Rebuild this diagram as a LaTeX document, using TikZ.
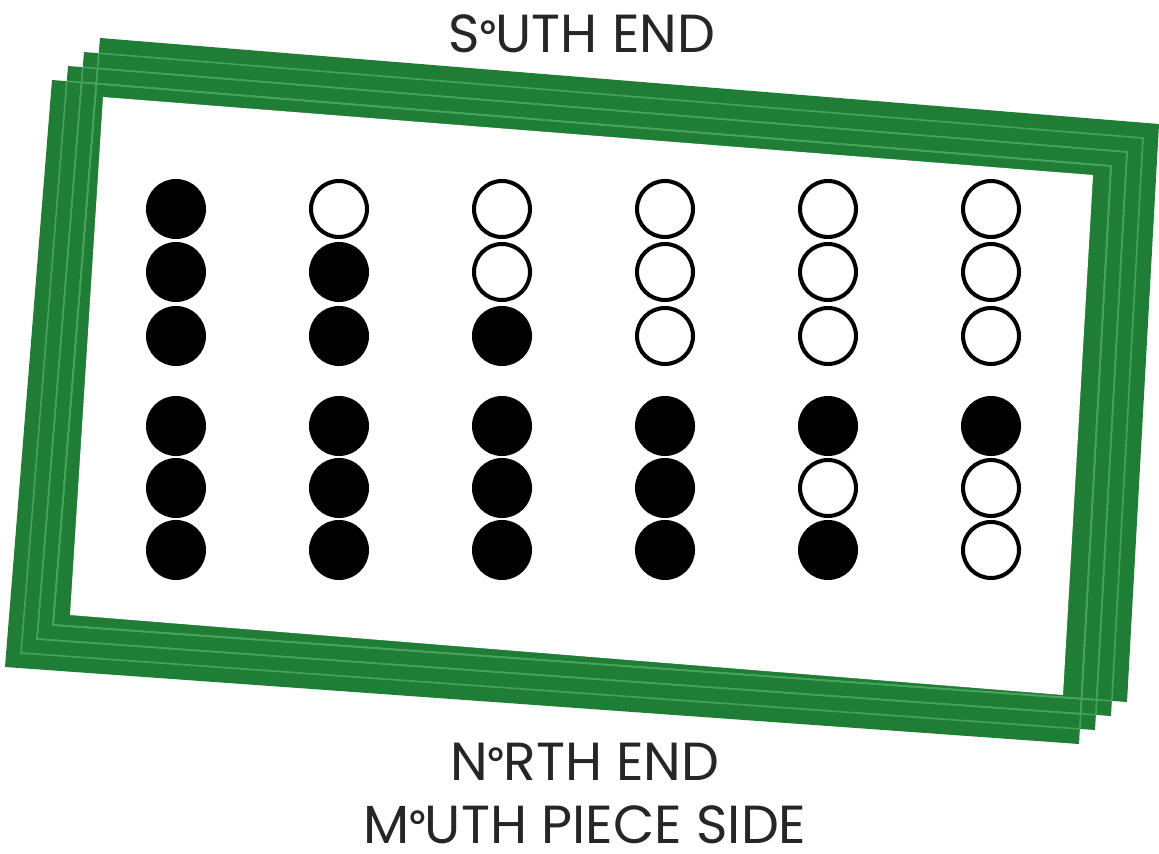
\documentclass[tikz,border=0pt]{standalone}
\usepackage{fontspec}
\newfontfamily\labelfont{Poppins}
\definecolor{framegreen}{HTML}{1F7D35}
\definecolor{stripgreen}{HTML}{45A35A}
\newcommand{\supo}{\raisebox{10.5pt}{\bfseries\fontsize{11}{11}\selectfont O}}

\begin{document}
\begin{tikzpicture}[x=0.02cm, y=-0.02cm,
  framequad/.style={insert path={(100,38) -- (1159,124) -- (1127,702) -- (53,625) -- cycle}},
  sepline/.style={stripgreen, line width=0.9pt},
  hole/.style={circle, draw=black, fill=#1, line width=2.3pt, minimum size=1.12cm, inner sep=0pt},
  lbl/.style={font=\labelfont\fontsize{30.5}{37}\selectfont, text=black!85, inner sep=0pt}]
\useasboundingbox (0,0) rectangle (1159,854);
% stacked frames, the back ones shifted down-left
\foreach \k in {3,2,1,0}
  \fill[framegreen, shift={(-16*\k,14*\k)}, framequad];
\foreach \i in {0,...,3} {
  \begin{scope}
    \clip[shift={(-16*\i,14*\i)}, framequad];
    \foreach \k in {0,...,3} {
      \ifnum\k=\i\relax\else
        \draw[sepline, shift={(-16*\k,14*\k)}, framequad];
      \fi
    }
  \end{scope}
}
\fill[white] (103,97) -- (1093,175) -- (1063,695) -- (70,615) -- cycle;
% finger holes, row by row
\foreach \r/\yy/\row in {1/209/{black,white,white,white,white,white},
                        2/272/{black,black,white,white,white,white},
                        3/336/{black,black,black,white,white,white},
                        4/426/{black,black,black,black,black,black},
                        5/488/{black,black,black,black,white,white},
                        6/550/{black,black,black,black,black,white}}
  \foreach \st [count=\c] in \row
    \node[hole=\st] (h-\r-\c) at ({13+163*\c},\yy) {};
\node[lbl, anchor=base] (south) at (582,53) {S\supo UTH END};
\node[lbl, anchor=base] (north) at (585,780) {N\supo RTH END};
\node[lbl, anchor=base] (mouth) at (585,843) {M\supo UTH PIECE SIDE};
\end{tikzpicture}
\end{document}
